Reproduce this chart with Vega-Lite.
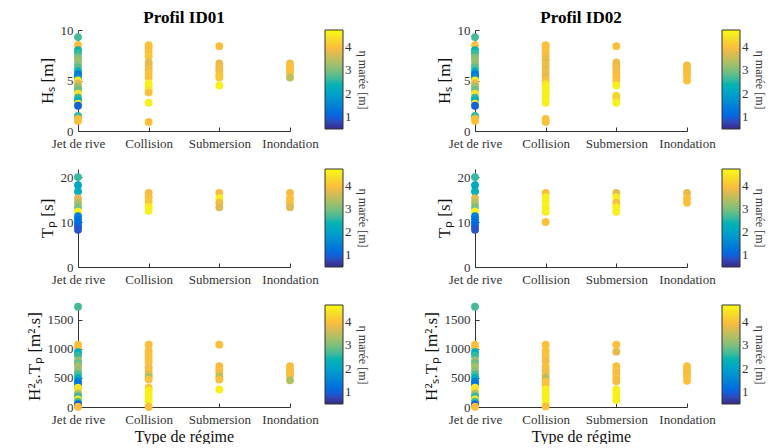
{
  "$schema": "https://vega.github.io/schema/vega-lite/v6.json",
  "padding": {"left": 25, "top": 9, "right": 5, "bottom": 0},
  "background": "white",
  "datasets": {
    "id01_hs": [
      {"r": "Jet de rive", "y": 9.3, "eta": 2.7}, {"r": "Jet de rive", "y": 8.5, "eta": 4.0}, {"r": "Jet de rive", "y": 8.0, "eta": 2.4}, {"r": "Jet de rive", "y": 7.7, "eta": 2.6}, {"r": "Jet de rive", "y": 7.3, "eta": 3.0}, {"r": "Jet de rive", "y": 7.0, "eta": 3.2}, {"r": "Jet de rive", "y": 6.6, "eta": 3.1}, {"r": "Jet de rive", "y": 6.3, "eta": 2.8}, {"r": "Jet de rive", "y": 5.9, "eta": 2.2}, {"r": "Jet de rive", "y": 5.6, "eta": 1.3}, {"r": "Jet de rive", "y": 5.3, "eta": 1.6}, {"r": "Jet de rive", "y": 5.0, "eta": 4.5}, {"r": "Jet de rive", "y": 4.7, "eta": 3.8}, {"r": "Jet de rive", "y": 4.4, "eta": 3.3}, {"r": "Jet de rive", "y": 4.1, "eta": 2.9}, {"r": "Jet de rive", "y": 3.7, "eta": 4.4}, {"r": "Jet de rive", "y": 3.3, "eta": 2.6}, {"r": "Jet de rive", "y": 3.0, "eta": 2.3}, {"r": "Jet de rive", "y": 2.7, "eta": 4.5}, {"r": "Jet de rive", "y": 2.5, "eta": 1.0}, {"r": "Jet de rive", "y": 1.5, "eta": 2.6}, {"r": "Jet de rive", "y": 1.2, "eta": 4.0}, {"r": "Jet de rive", "y": 1.0, "eta": 4.0},
      {"r": "Collision", "y": 8.5, "eta": 4.0}, {"r": "Collision", "y": 8.2, "eta": 4.0}, {"r": "Collision", "y": 7.8, "eta": 4.0}, {"r": "Collision", "y": 7.4, "eta": 4.1}, {"r": "Collision", "y": 6.8, "eta": 3.8}, {"r": "Collision", "y": 6.5, "eta": 3.8}, {"r": "Collision", "y": 6.1, "eta": 3.9}, {"r": "Collision", "y": 5.7, "eta": 4.0}, {"r": "Collision", "y": 5.3, "eta": 4.0}, {"r": "Collision", "y": 4.7, "eta": 4.6}, {"r": "Collision", "y": 4.4, "eta": 4.6}, {"r": "Collision", "y": 4.1, "eta": 4.5}, {"r": "Collision", "y": 3.8, "eta": 4.0}, {"r": "Collision", "y": 2.8, "eta": 4.6}, {"r": "Collision", "y": 0.9, "eta": 4.0},
      {"r": "Submersion", "y": 8.4, "eta": 4.0}, {"r": "Submersion", "y": 6.7, "eta": 3.8}, {"r": "Submersion", "y": 6.3, "eta": 3.9}, {"r": "Submersion", "y": 6.0, "eta": 3.9}, {"r": "Submersion", "y": 5.6, "eta": 4.0}, {"r": "Submersion", "y": 5.3, "eta": 4.1}, {"r": "Submersion", "y": 4.5, "eta": 4.6},
      {"r": "Inondation", "y": 6.7, "eta": 3.9}, {"r": "Inondation", "y": 6.4, "eta": 4.0}, {"r": "Inondation", "y": 6.1, "eta": 4.0}, {"r": "Inondation", "y": 5.8, "eta": 4.0}, {"r": "Inondation", "y": 5.3, "eta": 3.5}
    ],
    "id02_hs": [
      {"r": "Jet de rive", "y": 9.3, "eta": 2.7}, {"r": "Jet de rive", "y": 8.5, "eta": 4.0}, {"r": "Jet de rive", "y": 8.0, "eta": 2.4}, {"r": "Jet de rive", "y": 7.7, "eta": 2.6}, {"r": "Jet de rive", "y": 7.3, "eta": 3.0}, {"r": "Jet de rive", "y": 7.0, "eta": 3.2}, {"r": "Jet de rive", "y": 6.6, "eta": 3.1}, {"r": "Jet de rive", "y": 6.3, "eta": 2.8}, {"r": "Jet de rive", "y": 5.9, "eta": 2.2}, {"r": "Jet de rive", "y": 5.6, "eta": 1.3}, {"r": "Jet de rive", "y": 5.3, "eta": 1.6}, {"r": "Jet de rive", "y": 5.0, "eta": 4.5}, {"r": "Jet de rive", "y": 4.7, "eta": 3.8}, {"r": "Jet de rive", "y": 4.4, "eta": 3.3}, {"r": "Jet de rive", "y": 4.1, "eta": 2.9}, {"r": "Jet de rive", "y": 3.7, "eta": 4.4}, {"r": "Jet de rive", "y": 3.3, "eta": 2.6}, {"r": "Jet de rive", "y": 3.0, "eta": 2.3}, {"r": "Jet de rive", "y": 2.7, "eta": 4.5}, {"r": "Jet de rive", "y": 2.5, "eta": 1.0}, {"r": "Jet de rive", "y": 1.5, "eta": 2.6}, {"r": "Jet de rive", "y": 1.2, "eta": 4.0}, {"r": "Jet de rive", "y": 1.0, "eta": 4.0},
      {"r": "Collision", "y": 8.5, "eta": 4.0}, {"r": "Collision", "y": 8.2, "eta": 4.0}, {"r": "Collision", "y": 7.8, "eta": 4.0}, {"r": "Collision", "y": 7.4, "eta": 3.9}, {"r": "Collision", "y": 7.0, "eta": 3.8}, {"r": "Collision", "y": 6.6, "eta": 3.9}, {"r": "Collision", "y": 6.2, "eta": 3.8}, {"r": "Collision", "y": 5.8, "eta": 3.9}, {"r": "Collision", "y": 5.4, "eta": 3.8}, {"r": "Collision", "y": 5.0, "eta": 4.0}, {"r": "Collision", "y": 4.6, "eta": 4.5}, {"r": "Collision", "y": 4.3, "eta": 4.6}, {"r": "Collision", "y": 4.0, "eta": 4.6}, {"r": "Collision", "y": 3.6, "eta": 4.6}, {"r": "Collision", "y": 3.3, "eta": 4.6}, {"r": "Collision", "y": 2.8, "eta": 4.6}, {"r": "Collision", "y": 1.2, "eta": 4.0}, {"r": "Collision", "y": 0.9, "eta": 4.0},
      {"r": "Submersion", "y": 8.4, "eta": 4.0}, {"r": "Submersion", "y": 6.8, "eta": 3.9}, {"r": "Submersion", "y": 6.5, "eta": 3.8}, {"r": "Submersion", "y": 6.2, "eta": 3.9}, {"r": "Submersion", "y": 5.8, "eta": 3.9}, {"r": "Submersion", "y": 5.4, "eta": 4.0}, {"r": "Submersion", "y": 5.0, "eta": 4.0}, {"r": "Submersion", "y": 4.5, "eta": 4.6}, {"r": "Submersion", "y": 3.5, "eta": 4.3}, {"r": "Submersion", "y": 3.2, "eta": 4.2}, {"r": "Submersion", "y": 2.8, "eta": 4.6},
      {"r": "Inondation", "y": 6.5, "eta": 3.9}, {"r": "Inondation", "y": 6.2, "eta": 4.0}, {"r": "Inondation", "y": 5.8, "eta": 3.9}, {"r": "Inondation", "y": 5.5, "eta": 4.0}, {"r": "Inondation", "y": 5.0, "eta": 4.0}
    ],
    "id01_tp": [
      {"r": "Jet de rive", "y": 20.0, "eta": 2.6}, {"r": "Jet de rive", "y": 18.2, "eta": 2.1}, {"r": "Jet de rive", "y": 16.8, "eta": 2.3}, {"r": "Jet de rive", "y": 15.3, "eta": 3.7}, {"r": "Jet de rive", "y": 14.3, "eta": 3.4}, {"r": "Jet de rive", "y": 13.3, "eta": 3.0}, {"r": "Jet de rive", "y": 12.3, "eta": 4.6}, {"r": "Jet de rive", "y": 11.3, "eta": 1.5}, {"r": "Jet de rive", "y": 10.5, "eta": 1.3}, {"r": "Jet de rive", "y": 9.8, "eta": 1.2}, {"r": "Jet de rive", "y": 9.0, "eta": 1.0}, {"r": "Jet de rive", "y": 8.3, "eta": 0.9},
      {"r": "Collision", "y": 16.5, "eta": 3.9}, {"r": "Collision", "y": 15.5, "eta": 4.0}, {"r": "Collision", "y": 14.5, "eta": 4.1}, {"r": "Collision", "y": 13.3, "eta": 4.6}, {"r": "Collision", "y": 12.5, "eta": 4.6},
      {"r": "Submersion", "y": 16.5, "eta": 3.9}, {"r": "Submersion", "y": 15.3, "eta": 4.6}, {"r": "Submersion", "y": 14.3, "eta": 3.9}, {"r": "Submersion", "y": 13.3, "eta": 3.7},
      {"r": "Inondation", "y": 16.5, "eta": 3.9}, {"r": "Inondation", "y": 15.3, "eta": 4.0}, {"r": "Inondation", "y": 14.3, "eta": 4.0}, {"r": "Inondation", "y": 13.3, "eta": 3.7}
    ],
    "id02_tp": [
      {"r": "Jet de rive", "y": 20.0, "eta": 2.6}, {"r": "Jet de rive", "y": 18.2, "eta": 2.1}, {"r": "Jet de rive", "y": 16.8, "eta": 2.3}, {"r": "Jet de rive", "y": 15.3, "eta": 3.7}, {"r": "Jet de rive", "y": 14.3, "eta": 3.4}, {"r": "Jet de rive", "y": 13.3, "eta": 3.0}, {"r": "Jet de rive", "y": 12.3, "eta": 4.6}, {"r": "Jet de rive", "y": 11.3, "eta": 1.5}, {"r": "Jet de rive", "y": 10.5, "eta": 1.3}, {"r": "Jet de rive", "y": 9.8, "eta": 1.2}, {"r": "Jet de rive", "y": 9.0, "eta": 1.0}, {"r": "Jet de rive", "y": 8.3, "eta": 0.9},
      {"r": "Collision", "y": 16.5, "eta": 4.0}, {"r": "Collision", "y": 15.5, "eta": 4.6}, {"r": "Collision", "y": 14.5, "eta": 4.6}, {"r": "Collision", "y": 13.3, "eta": 4.6}, {"r": "Collision", "y": 12.3, "eta": 4.6}, {"r": "Collision", "y": 10.0, "eta": 4.0},
      {"r": "Submersion", "y": 16.5, "eta": 3.8}, {"r": "Submersion", "y": 15.5, "eta": 4.6}, {"r": "Submersion", "y": 14.3, "eta": 4.0}, {"r": "Submersion", "y": 13.3, "eta": 4.6}, {"r": "Submersion", "y": 12.3, "eta": 4.6},
      {"r": "Inondation", "y": 16.5, "eta": 3.8}, {"r": "Inondation", "y": 15.3, "eta": 4.0}, {"r": "Inondation", "y": 14.3, "eta": 4.0}
    ],
    "id01_e": [
      {"r": "Jet de rive", "y": 1720, "eta": 2.7}, {"r": "Jet de rive", "y": 1070, "eta": 4.0}, {"r": "Jet de rive", "y": 1010, "eta": 4.0}, {"r": "Jet de rive", "y": 940, "eta": 2.2}, {"r": "Jet de rive", "y": 880, "eta": 2.6}, {"r": "Jet de rive", "y": 800, "eta": 3.2}, {"r": "Jet de rive", "y": 750, "eta": 2.9}, {"r": "Jet de rive", "y": 690, "eta": 3.3}, {"r": "Jet de rive", "y": 620, "eta": 3.1}, {"r": "Jet de rive", "y": 560, "eta": 2.7}, {"r": "Jet de rive", "y": 500, "eta": 2.3}, {"r": "Jet de rive", "y": 440, "eta": 1.4}, {"r": "Jet de rive", "y": 390, "eta": 1.3}, {"r": "Jet de rive", "y": 330, "eta": 4.5}, {"r": "Jet de rive", "y": 290, "eta": 4.4}, {"r": "Jet de rive", "y": 230, "eta": 3.4}, {"r": "Jet de rive", "y": 180, "eta": 2.6}, {"r": "Jet de rive", "y": 130, "eta": 4.5}, {"r": "Jet de rive", "y": 90, "eta": 2.7}, {"r": "Jet de rive", "y": 50, "eta": 1.2}, {"r": "Jet de rive", "y": 20, "eta": 0.8}, {"r": "Jet de rive", "y": 5, "eta": 4.0},
      {"r": "Collision", "y": 1070, "eta": 4.0}, {"r": "Collision", "y": 960, "eta": 4.0}, {"r": "Collision", "y": 900, "eta": 4.0}, {"r": "Collision", "y": 830, "eta": 4.0}, {"r": "Collision", "y": 770, "eta": 4.0}, {"r": "Collision", "y": 680, "eta": 3.9}, {"r": "Collision", "y": 620, "eta": 4.0}, {"r": "Collision", "y": 560, "eta": 3.8}, {"r": "Collision", "y": 520, "eta": 3.4}, {"r": "Collision", "y": 470, "eta": 4.0}, {"r": "Collision", "y": 330, "eta": 4.1}, {"r": "Collision", "y": 280, "eta": 4.6}, {"r": "Collision", "y": 220, "eta": 4.6}, {"r": "Collision", "y": 160, "eta": 4.6}, {"r": "Collision", "y": 100, "eta": 4.6}, {"r": "Collision", "y": 0, "eta": 4.0},
      {"r": "Submersion", "y": 1070, "eta": 4.0}, {"r": "Submersion", "y": 700, "eta": 3.9}, {"r": "Submersion", "y": 640, "eta": 4.0}, {"r": "Submersion", "y": 580, "eta": 3.9}, {"r": "Submersion", "y": 520, "eta": 3.5}, {"r": "Submersion", "y": 470, "eta": 4.0}, {"r": "Submersion", "y": 300, "eta": 4.6},
      {"r": "Inondation", "y": 700, "eta": 3.9}, {"r": "Inondation", "y": 650, "eta": 4.0}, {"r": "Inondation", "y": 590, "eta": 3.9}, {"r": "Inondation", "y": 540, "eta": 4.0}, {"r": "Inondation", "y": 460, "eta": 3.4}
    ],
    "id02_e": [
      {"r": "Jet de rive", "y": 1720, "eta": 2.7}, {"r": "Jet de rive", "y": 1070, "eta": 4.0}, {"r": "Jet de rive", "y": 1010, "eta": 4.0}, {"r": "Jet de rive", "y": 940, "eta": 2.2}, {"r": "Jet de rive", "y": 880, "eta": 2.6}, {"r": "Jet de rive", "y": 800, "eta": 3.2}, {"r": "Jet de rive", "y": 750, "eta": 2.9}, {"r": "Jet de rive", "y": 690, "eta": 3.3}, {"r": "Jet de rive", "y": 620, "eta": 3.1}, {"r": "Jet de rive", "y": 560, "eta": 2.7}, {"r": "Jet de rive", "y": 500, "eta": 2.3}, {"r": "Jet de rive", "y": 440, "eta": 1.4}, {"r": "Jet de rive", "y": 390, "eta": 1.3}, {"r": "Jet de rive", "y": 330, "eta": 4.5}, {"r": "Jet de rive", "y": 290, "eta": 4.4}, {"r": "Jet de rive", "y": 230, "eta": 3.4}, {"r": "Jet de rive", "y": 180, "eta": 2.6}, {"r": "Jet de rive", "y": 130, "eta": 4.5}, {"r": "Jet de rive", "y": 90, "eta": 2.7}, {"r": "Jet de rive", "y": 50, "eta": 1.2}, {"r": "Jet de rive", "y": 20, "eta": 0.8}, {"r": "Jet de rive", "y": 5, "eta": 4.0},
      {"r": "Collision", "y": 1070, "eta": 4.0}, {"r": "Collision", "y": 960, "eta": 4.0}, {"r": "Collision", "y": 880, "eta": 4.0}, {"r": "Collision", "y": 790, "eta": 3.9}, {"r": "Collision", "y": 690, "eta": 4.0}, {"r": "Collision", "y": 620, "eta": 3.9}, {"r": "Collision", "y": 560, "eta": 3.9}, {"r": "Collision", "y": 500, "eta": 3.4}, {"r": "Collision", "y": 440, "eta": 4.0}, {"r": "Collision", "y": 380, "eta": 4.0}, {"r": "Collision", "y": 300, "eta": 4.6}, {"r": "Collision", "y": 240, "eta": 4.6}, {"r": "Collision", "y": 170, "eta": 4.6}, {"r": "Collision", "y": 110, "eta": 4.6}, {"r": "Collision", "y": 60, "eta": 4.6}, {"r": "Collision", "y": 10, "eta": 4.0},
      {"r": "Submersion", "y": 1070, "eta": 4.0}, {"r": "Submersion", "y": 950, "eta": 3.8}, {"r": "Submersion", "y": 700, "eta": 4.0}, {"r": "Submersion", "y": 640, "eta": 4.0}, {"r": "Submersion", "y": 580, "eta": 3.9}, {"r": "Submersion", "y": 500, "eta": 4.0}, {"r": "Submersion", "y": 440, "eta": 3.9}, {"r": "Submersion", "y": 300, "eta": 4.6}, {"r": "Submersion", "y": 240, "eta": 4.6}, {"r": "Submersion", "y": 180, "eta": 4.6}, {"r": "Submersion", "y": 120, "eta": 4.6},
      {"r": "Inondation", "y": 700, "eta": 4.0}, {"r": "Inondation", "y": 640, "eta": 4.0}, {"r": "Inondation", "y": 580, "eta": 3.9}, {"r": "Inondation", "y": 520, "eta": 4.0}, {"r": "Inondation", "y": 450, "eta": 4.0}
    ]
  },
  "columns": 2,
  "bounds": "flush",
  "align": "each",
  "spacing": {"row": 38, "column": 185},
  "resolve": {"scale": {"color": "independent", "x": "independent", "y": "independent"}, "legend": {"color": "independent"}},
  "concat": [
    {
      "width": 212, "height": 101,
      "title": {"text": "Profil ID01", "anchor": "middle", "frame": "group", "offset": -3},
      "data": {"name": "id01_hs"},
      "mark": {"type": "circle", "size": 62, "opacity": 1},
      "encoding": {
        "x": {"field": "r", "type": "nominal", "scale": {"type": "point", "padding": 0, "domain": ["Jet de rive", "Collision", "Submersion", "Inondation"]}, "axis": {"title": null, "labelAngle": 0}},
        "y": {"field": "y", "type": "quantitative", "scale": {"domain": [0, 10], "nice": false}, "axis": {"title": "Hₛ [m]", "values": [0, 5, 10]}},
        "color": {"field": "eta", "type": "quantitative", "scale": {"domain": [0.5, 1.029, 1.558, 2.086, 2.615, 3.144, 3.673, 3.969, 4.307, 4.73], "range": ["#352a87", "#0363e1", "#1485d4", "#06a7c6", "#38b99e", "#92bf73", "#d9ba56", "#fcbc3c", "#f5d92c", "#f9fb0e"]}, "legend": {"title": "η marée [m]", "gradientLength": 99, "values": [1, 2, 3, 4]}}
      }
    },
    {
      "width": 212, "height": 101,
      "title": {"text": "Profil ID02", "anchor": "middle", "frame": "group", "offset": -3},
      "data": {"name": "id02_hs"},
      "mark": {"type": "circle", "size": 62, "opacity": 1},
      "encoding": {
        "x": {"field": "r", "type": "nominal", "scale": {"type": "point", "padding": 0, "domain": ["Jet de rive", "Collision", "Submersion", "Inondation"]}, "axis": {"title": null, "labelAngle": 0}},
        "y": {"field": "y", "type": "quantitative", "scale": {"domain": [0, 10], "nice": false}, "axis": {"title": "Hₛ [m]", "values": [0, 5, 10]}},
        "color": {"field": "eta", "type": "quantitative", "scale": {"domain": [0.5, 1.029, 1.558, 2.086, 2.615, 3.144, 3.673, 3.969, 4.307, 4.73], "range": ["#352a87", "#0363e1", "#1485d4", "#06a7c6", "#38b99e", "#92bf73", "#d9ba56", "#fcbc3c", "#f5d92c", "#f9fb0e"]}, "legend": {"title": "η marée [m]", "gradientLength": 99, "values": [1, 2, 3, 4]}}
      }
    },
    {
      "width": 212, "height": 98,
      "data": {"name": "id01_tp"},
      "mark": {"type": "circle", "size": 62, "opacity": 1},
      "encoding": {
        "x": {"field": "r", "type": "nominal", "scale": {"type": "point", "padding": 0, "domain": ["Jet de rive", "Collision", "Submersion", "Inondation"]}, "axis": {"title": null, "labelAngle": 0}},
        "y": {"field": "y", "type": "quantitative", "scale": {"domain": [0, 21.8], "nice": false}, "axis": {"title": "Tₚ [s]", "values": [0, 10, 20]}},
        "color": {"field": "eta", "type": "quantitative", "scale": {"domain": [0.5, 1.029, 1.558, 2.086, 2.615, 3.144, 3.673, 3.969, 4.307, 4.73], "range": ["#352a87", "#0363e1", "#1485d4", "#06a7c6", "#38b99e", "#92bf73", "#d9ba56", "#fcbc3c", "#f5d92c", "#f9fb0e"]}, "legend": {"title": "η marée [m]", "gradientLength": 98, "values": [1, 2, 3, 4]}}
      }
    },
    {
      "width": 212, "height": 98,
      "data": {"name": "id02_tp"},
      "mark": {"type": "circle", "size": 62, "opacity": 1},
      "encoding": {
        "x": {"field": "r", "type": "nominal", "scale": {"type": "point", "padding": 0, "domain": ["Jet de rive", "Collision", "Submersion", "Inondation"]}, "axis": {"title": null, "labelAngle": 0}},
        "y": {"field": "y", "type": "quantitative", "scale": {"domain": [0, 21.8], "nice": false}, "axis": {"title": "Tₚ [s]", "values": [0, 10, 20]}},
        "color": {"field": "eta", "type": "quantitative", "scale": {"domain": [0.5, 1.029, 1.558, 2.086, 2.615, 3.144, 3.673, 3.969, 4.307, 4.73], "range": ["#352a87", "#0363e1", "#1485d4", "#06a7c6", "#38b99e", "#92bf73", "#d9ba56", "#fcbc3c", "#f5d92c", "#f9fb0e"]}, "legend": {"title": "η marée [m]", "gradientLength": 98, "values": [1, 2, 3, 4]}}
      }
    },
    {
      "width": 212, "height": 102,
      "data": {"name": "id01_e"},
      "mark": {"type": "circle", "size": 62, "opacity": 1},
      "encoding": {
        "x": {"field": "r", "type": "nominal", "scale": {"type": "point", "padding": 0, "domain": ["Jet de rive", "Collision", "Submersion", "Inondation"]}, "axis": {"title": "Type de régime", "labelAngle": 0}},
        "y": {"field": "y", "type": "quantitative", "scale": {"domain": [0, 1750], "nice": false}, "axis": {"title": "H²ₛ.Tₚ [m².s]", "values": [0, 500, 1000, 1500], "format": "d"}},
        "color": {"field": "eta", "type": "quantitative", "scale": {"domain": [0.5, 1.029, 1.558, 2.086, 2.615, 3.144, 3.673, 3.969, 4.307, 4.73], "range": ["#352a87", "#0363e1", "#1485d4", "#06a7c6", "#38b99e", "#92bf73", "#d9ba56", "#fcbc3c", "#f5d92c", "#f9fb0e"]}, "legend": {"title": "η marée [m]", "gradientLength": 99, "values": [1, 2, 3, 4]}}
      }
    },
    {
      "width": 212, "height": 102,
      "data": {"name": "id02_e"},
      "mark": {"type": "circle", "size": 62, "opacity": 1},
      "encoding": {
        "x": {"field": "r", "type": "nominal", "scale": {"type": "point", "padding": 0, "domain": ["Jet de rive", "Collision", "Submersion", "Inondation"]}, "axis": {"title": "Type de régime", "labelAngle": 0}},
        "y": {"field": "y", "type": "quantitative", "scale": {"domain": [0, 1750], "nice": false}, "axis": {"title": "H²ₛ.Tₚ [m².s]", "values": [0, 500, 1000, 1500], "format": "d"}},
        "color": {"field": "eta", "type": "quantitative", "scale": {"domain": [0.5, 1.029, 1.558, 2.086, 2.615, 3.144, 3.673, 3.969, 4.307, 4.73], "range": ["#352a87", "#0363e1", "#1485d4", "#06a7c6", "#38b99e", "#92bf73", "#d9ba56", "#fcbc3c", "#f5d92c", "#f9fb0e"]}, "legend": {"title": "η marée [m]", "gradientLength": 99, "values": [1, 2, 3, 4]}}
      }
    }
  ],
  "config": {
    "font": "Liberation Serif",
    "view": {"stroke": null},
    "axis": {"grid": false, "domainColor": "#333333", "tickColor": "#333333", "labelColor": "#333333", "titleColor": "#111111", "labelFont": "Liberation Serif", "titleFont": "Liberation Serif", "labelFontSize": 13, "titleFontSize": 17, "titleFontWeight": "normal", "tickSize": -4, "labelPadding": 9, "domainWidth": 1},
    "axisX": {"titleFontSize": 16, "titlePadding": 2, "labelPadding": 10},
    "legend": {"orient": "right", "offset": 35, "direction": "vertical", "gradientThickness": 18, "gradientStrokeColor": "#333333", "gradientStrokeWidth": 1, "labelFont": "Liberation Serif", "labelFontSize": 13, "labelColor": "#333333", "labelOverlap": false, "titleFont": "Liberation Serif", "titleFontSize": 12, "titleFontWeight": "normal", "titleColor": "#333333", "titleOrient": "right", "titleAnchor": "middle", "titlePadding": 4},
    "title": {"font": "Liberation Serif", "fontSize": 17, "fontWeight": "bold", "color": "#000000"}
  }
}
